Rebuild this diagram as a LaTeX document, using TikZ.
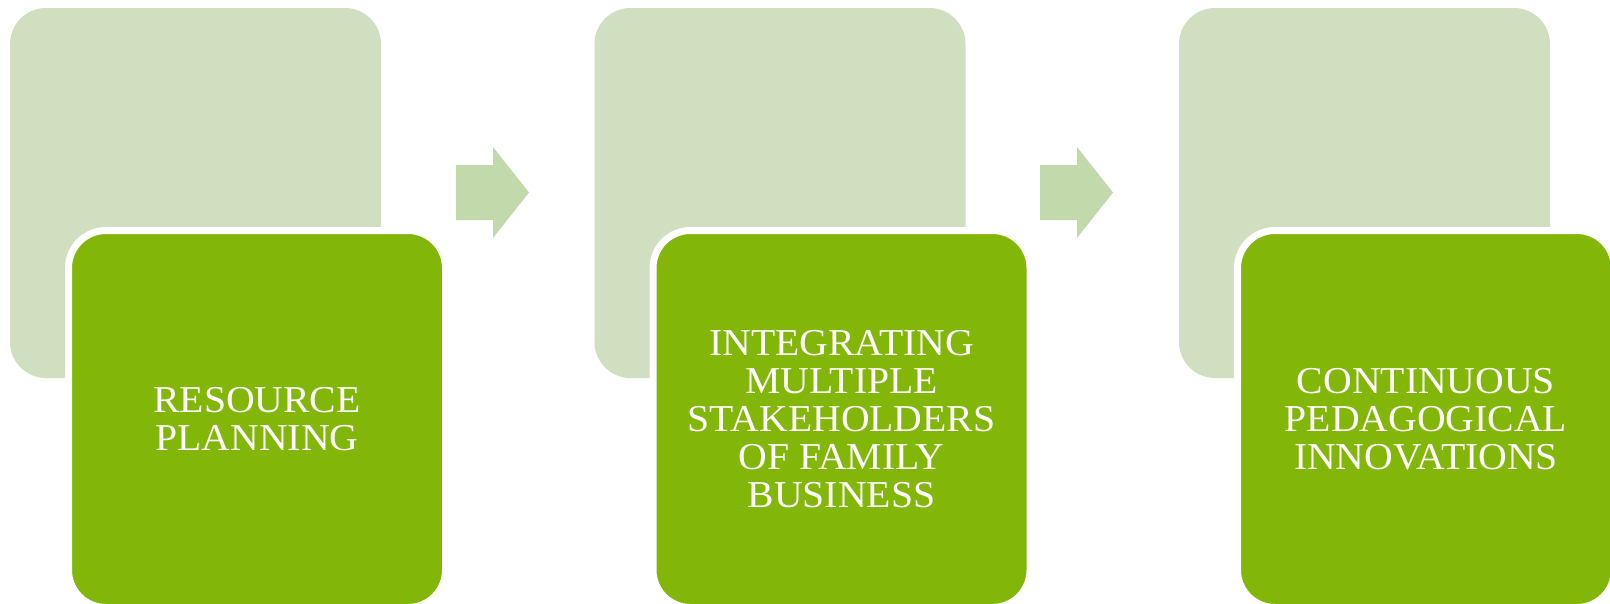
\documentclass[tikz,border=0pt]{standalone}
\usepackage{fontspec}
\setmainfont{Liberation Serif}
\newfontfamily\cardfont[FakeStretch=1.045]{Liberation Serif}
\definecolor{paleSage}{RGB}{207,223,192}
\definecolor{arrowSage}{RGB}{193,217,171}
\definecolor{leafGreen}{RGB}{130,182,8}
\tikzset{
  backcard/.style={rectangle, fill=paleSage, minimum width=371pt, minimum height=370pt,
    rounded corners=36pt, inner sep=0pt},
  frontcard/.style={rectangle, fill=leafGreen, draw=white, line width=7pt,
    minimum width=377pt, minimum height=377pt, rounded corners=37.5pt,
    text=white, align=center, inner sep=0pt,
    font=\cardfont\fontsize{38}{38}\selectfont},
  flowarrow/.style={fill=arrowSage}
}
\begin{document}
\begin{tikzpicture}[x=1pt, y=-1pt]
  \useasboundingbox (0,0) rectangle (1610,603);
  \clip (0,0) rectangle (1610,603);

  % back cards
  \node[backcard] (b1) at (195.5,193) {};
  \node[backcard] (b2) at (780,193) {};
  \node[backcard] (b3) at (1364.5,193) {};

  % front cards with labels
  \node[frontcard] (f1) at (257,419) {RESOURCE\\PLANNING};
  \node[frontcard] (f2) at (841.5,419) {INTEGRATING\\MULTIPLE\\STAKEHOLDERS\\OF FAMILY\\BUSINESS};
  \node[frontcard] (f3) at (1426,419) {CONTINUOUS\\PEDAGOGICAL\\INNOVATIONS};

  % block arrows between the stages
  \foreach \dx/\nm in {0/a1, 584/a2} {
    \begin{scope}[xshift=\dx pt]
      \fill[flowarrow] (456,165) -- (493,165) -- (493,147) -- (529,192.5)
        -- (493,238) -- (493,220) -- (456,220) -- cycle;
      \coordinate (\nm) at (492.5,192.5);
    \end{scope}
  }
\end{tikzpicture}
\end{document}
